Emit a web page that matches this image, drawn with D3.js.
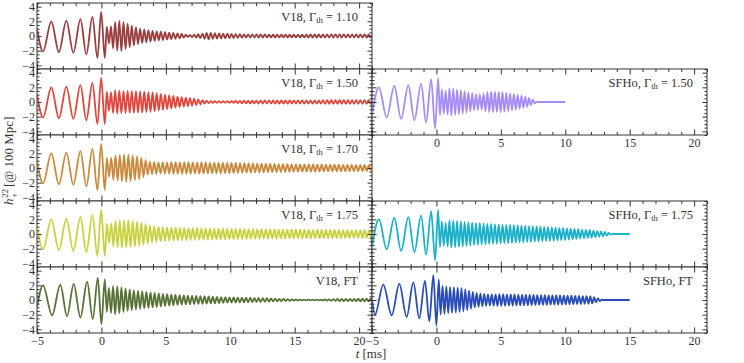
<!DOCTYPE html>
<html>
<head>
<meta charset="utf-8">
<script src="https://cdn.jsdelivr.net/npm/d3@7"></script>
<style>
  body { margin: 0; background: #fff; }
  text { font-family: "Liberation Serif", "DejaVu Serif", serif; fill: #333; }
  .frame { fill: #fff; stroke: #333; stroke-width: 1; }
  .tick line { stroke: #333; }
  .wave { fill: none; stroke-width: 1.8; stroke-linejoin: round; }
</style>
</head>
<body>
<svg id="chart" width="744" height="363"></svg>
<script>
// ---- data ----
const xDomain = [-5, 21];
const yDomain = [-4.5, 4.5];
const xMajor = [-5, 0, 5, 10, 15, 20];
const yMajor = [-4, -2, 0, 2, 4];

// inspiral extrema (t in ms, strain)
const inspV18T   = [-5, -4.53, -3.89, -3.30, -2.72, -2.18, -1.63, -1.17, -0.70, -0.31, -0.02, 0.26];
const inspV18H   = [1.0, -2.1, 2.0, -2.2, 2.1, -2.3, 2.3, -2.5, 2.6, -3.0, 3.3, -3.0];
const inspV18ftT = [-5, -4.53, -3.83, -3.19, -2.67, -2.15, -1.63, -1.11, -0.67, -0.28, 0.0, 0.26];
const inspV18ftH = [-1.0, 2.0, -2.1, 2.1, -2.2, 2.2, -2.4, 2.5, -2.6, 3.0, -3.3, 2.8];
const inspSFT    = [-5, -4.46, -3.86, -3.27, -2.74, -2.18, -1.71, -1.19, -0.80, -0.41, -0.10, 0.13];
const inspSFH    = [-1.7, 2.0, -2.1, 2.2, -2.3, 2.3, -2.5, 2.5, -2.8, 3.1, -3.6, 3.3];
const inspSFftT  = [-5, -4.77, -4.12, -3.47, -2.88, -2.31, -1.79, -1.33, -0.89, -0.55, -0.24, 0.0, 0.18];
const inspSFftH  = [0.0, -2.0, 2.1, -2.1, 2.2, -2.3, 2.4, -2.5, 2.6, -2.9, 3.4, -3.5, 2.8];

// post-merger: dominant frequency (kHz), amplitude envelope [t, A], end time
const envV18_110 = [[0.3,1.4],[0.6,1.0],[1,1.9],[1.5,2.1],[2,1.7],[2.5,1.3],[3,1.0],[4,0.7],[5,0.5],[6,0.35],[6.8,0.1],[7.5,0.25],[8.3,0.45],[9,0.35],[10,0.3],[11,0.22],[13,0.2],[16,0.2],[19,0.22],[21,0.2]];
const envV18_150 = [[0.3,1.5],[0.6,1.2],[1,1.6],[2,1.5],[3,1.45],[4,1.3],[5,1.0],[6,0.7],[7,0.5],[7.7,0.3],[8.5,0.12],[10,0.1],[11,0.18],[13,0.22],[21,0.25]];
const envV18_170 = [[0.3,1.5],[0.6,1.2],[1,1.7],[2,1.9],[3,1.5],[3.6,0.9],[4.5,0.75],[6,0.8],[8,0.75],[10,0.7],[12,0.6],[15,0.5],[18,0.45],[21,0.4]];
const envV18_175 = [[0.3,1.5],[0.6,1.2],[1,1.8],[2,1.9],[3,1.6],[4,1.1],[5,0.9],[7,0.8],[10,0.7],[14,0.6],[18,0.55],[21,0.5]];
const envV18_FT  = [[0.5,1.6],[1,2.0],[2,1.5],[3,1.2],[4,1.0],[5,0.8],[6,0.65],[8,0.5],[10,0.35],[12,0.3],[14,0.15],[15.5,0.05],[17,0.05],[18.5,0.15],[21,0.18]];
const envSF_150  = [[0.3,1.8],[0.7,1.5],[1,1.9],[2,1.6],[3,1.1],[3.5,1.0],[4,1.4],[5,1.4],[6,1.1],[7,0.7],[7.5,0.3],[7.8,0],[10,0]];
const envSF_175  = [[0.3,1.8],[0.7,1.5],[1,1.9],[2,1.7],[3,1.5],[4,1.4],[5,1.3],[8,1.0],[10,0.8],[12,0.5],[13,0.3],[13.7,0],[15,0]];
const envSF_FT   = [[0.3,2.0],[1,1.8],[2,1.6],[3,1.0],[4,0.75],[5,0.8],[7,0.7],[10,0.6],[12,0.5],[12.6,0.2],[12.9,0],[15,0]];

const panelNames = ["V18_110", "V18_150", "V18_170", "V18_175", "V18_FT", "SF_150", "SF_175", "SF_FT"];
const panelCol   = [0, 0, 0, 0, 0, 1, 1, 1];
const panelRow   = [0, 1, 2, 3, 4, 1, 3, 4];
const panelFreq  = [3.1, 3.1, 3.0, 3.0, 3.1, 3.4, 3.4, 3.4];
const panelEnd   = [21.5, 21.5, 21.5, 21.5, 21.5, 10, 15, 15];
const panelInspT = [inspV18T, inspV18T, inspV18T, inspV18T, inspV18ftT, inspSFT, inspSFT, inspSFftT];
const panelInspH = [inspV18H, inspV18H, inspV18H, inspV18H, inspV18ftH, inspSFH, inspSFH, inspSFftH];
const panelEnv   = [envV18_110, envV18_150, envV18_170, envV18_175, envV18_FT, envSF_150, envSF_175, envSF_FT];
const panelEos   = ["V18", "V18", "V18", "V18", "V18", "SFHo", "SFHo", "SFHo"];
const panelGamma = ["1.10", "1.50", "1.70", "1.75", null, "1.50", "1.75", null];

const colors = {
  V18_110: "#9a3e3e", V18_150: "#e0463c", V18_170: "#c98a3e", V18_175: "#c8d23e",
  V18_FT: "#587236", SF_150: "#a68cf6", SF_175: "#1ab1c9", SF_FT: "#2a4cb8"
};

// ---- layout ----
const left0 = 37, colW = 335, top0 = 3, rowH = 66;
const svg = d3.select("#chart");

const x = d3.scaleLinear().domain(xDomain).range([0, colW]);
const y = d3.scaleLinear().domain(yDomain).range([rowH, 0]);
const xMinor = d3.range(-5, 22, 1).filter(v => v % 5 !== 0);
const yMinor = d3.range(-4.5, 4.51, 0.5).filter(v => v % 2 !== 0);

function wavePoints(i) {
  const tI = panelInspT[i], hI = panelInspH[i];
  const pts = tI.map((t, k) => [t, hI[k]]);
  const env = panelEnv[i];
  const amp = d3.scaleLinear().domain(env.map(d => d[0])).range(env.map(d => d[1])).clamp(true);
  const half = 1 / (2 * panelFreq[i]);
  let sign = hI[hI.length - 1] > 0 ? -1 : 1;
  let t = tI[tI.length - 1] + half;
  while (t < panelEnd[i]) {
    pts.push([t, sign * amp(t)]);
    sign = -sign;
    t += half;
  }
  pts.push([panelEnd[i], 0]);
  return pts;
}

const fmt = d => d < 0 ? "\u2212" + Math.abs(d) : String(d);

function tickAxis(axisFn, scale, values, size, labelVals) {
  return axisFn(scale).tickValues(values).tickSizeInner(-size).tickSizeOuter(0)
    .tickPadding(3)
    .tickFormat(d => (labelVals && labelVals.includes(d)) ? fmt(d) : "");
}

const line = d3.line().x(d => x(d[0])).y(d => y(d[1])).curve(d3.curveMonotoneX);

panelNames.forEach((name, i) => {
  const col = panelCol[i], row = panelRow[i];
  const g = svg.append("g")
    .attr("transform", `translate(${left0 + col * colW},${top0 + row * rowH})`);

  g.append("rect").attr("class", "frame").attr("width", colW).attr("height", rowH);

  g.append("clipPath").attr("id", "clip" + i)
    .append("rect").attr("width", colW).attr("height", rowH);

  g.append("path")
    .attr("class", "wave")
    .attr("clip-path", `url(#clip${i})`)
    .attr("stroke", colors[name])
    .attr("d", line(wavePoints(i)));

  let xLab = null;
  if (row === 4) xLab = xMajor;
  if (col === 1 && row === 1) xLab = xMajor.filter(v => v > -5);
  const yLab = col === 0 ? yMajor : null;

  // x ticks bottom / top
  g.append("g").attr("transform", `translate(0,${rowH})`).call(tickAxis(d3.axisBottom, x, xMinor, 3, null));
  g.append("g").attr("transform", `translate(0,${rowH})`).call(tickAxis(d3.axisBottom, x, xMajor, 5.5, xLab));
  g.append("g").call(tickAxis(d3.axisTop, x, xMinor, 3, null));
  g.append("g").call(tickAxis(d3.axisTop, x, xMajor, 5.5, null));

  // y ticks left / right
  g.append("g").call(tickAxis(d3.axisLeft, y, yMinor, 2.5, null));
  g.append("g").call(tickAxis(d3.axisLeft, y, yMajor, 4.5, yLab).tickPadding(2));
  g.append("g").attr("transform", `translate(${colW},0)`).call(tickAxis(d3.axisRight, y, yMinor, 2.5, null));
  g.append("g").attr("transform", `translate(${colW},0)`).call(tickAxis(d3.axisRight, y, yMajor, 4.5, null));

  g.selectAll(".domain").remove();
  g.selectAll(".tick text").filter(function() { return this.textContent === ""; }).remove();
  g.selectAll(".tick text").attr("font-size", 12).attr("fill", "#333");

  // panel label
  const lab = g.append("text")
    .attr("x", colW - 14).attr("y", 17.5)
    .attr("text-anchor", "end")
    .attr("font-size", 12.5);
  if (panelGamma[i]) {
    lab.append("tspan").text(panelEos[i] + ", \u0393");
    lab.append("tspan").attr("font-size", 8.5).attr("dy", 2.5).text("th");
    lab.append("tspan").attr("dy", -2.5).text(" = " + panelGamma[i]);
  } else {
    lab.append("tspan").text(panelEos[i] + ", FT");
  }
});

// axis titles
const yl = svg.append("g").attr("transform", "translate(13,170) rotate(-90)");
yl.append("text").attr("x", -35).attr("font-size", 13).attr("font-style", "italic").text("h");
yl.append("text").attr("x", -28).attr("y", -5).attr("font-size", 9).text("22");
yl.append("text").attr("x", -28).attr("y", 4).attr("font-size", 9).text("+");
yl.append("text").attr("x", -17).attr("font-size", 13).text("[@ 100 Mpc]");

const xl = svg.append("text")
  .attr("x", 371).attr("y", 358)
  .attr("text-anchor", "middle")
  .attr("font-size", 13);
xl.append("tspan").attr("font-style", "italic").text("t");
xl.append("tspan").text(" [ms]");
</script>
</body>
</html>
